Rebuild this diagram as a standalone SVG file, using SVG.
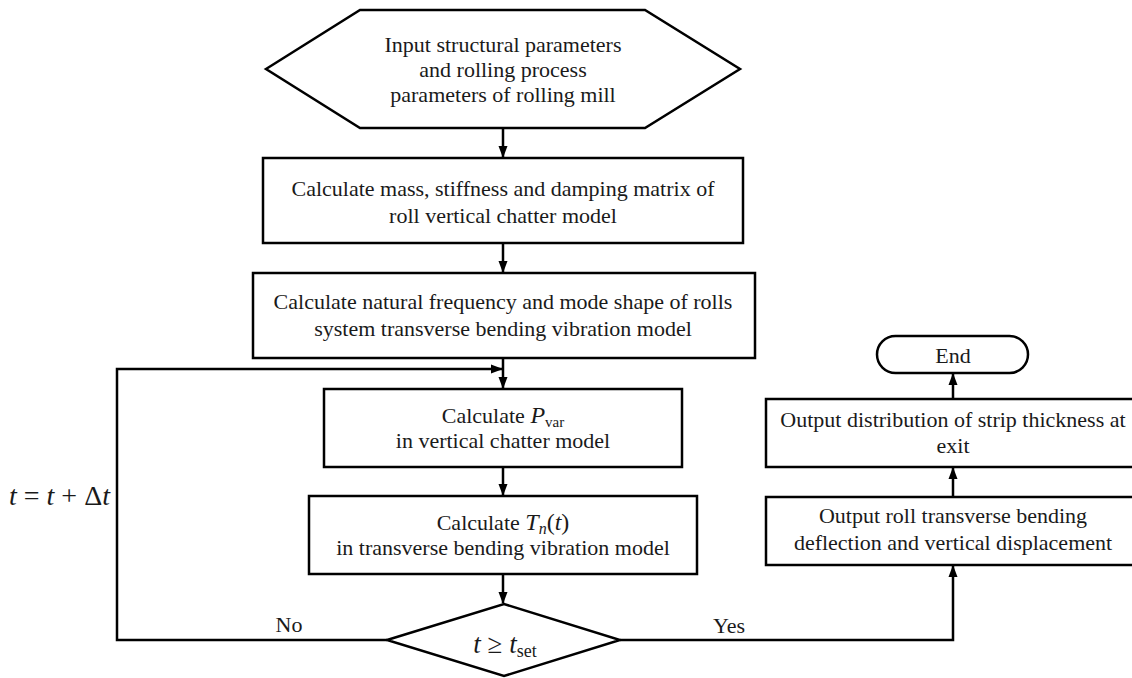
<svg xmlns="http://www.w3.org/2000/svg" width="1132" height="678" viewBox="0 0 1132 678">
<style>
.s{fill:#fff;stroke:#000;stroke-width:2.5}
.t{font-family:'Liberation Serif','Times New Roman','DejaVu Serif',serif;font-size:22px;fill:#1a1a1a;text-anchor:middle}
.l{fill:none;stroke:#000;stroke-width:2.5}
.m{font-family:'Liberation Serif','Times New Roman','DejaVu Serif',serif;font-style:italic;fill:#1a1a1a}
</style>
<defs>
<marker id="a" markerUnits="userSpaceOnUse" markerWidth="12" markerHeight="12" viewBox="0 0 12 12" refX="11" refY="6" orient="auto">
<path d="M0,1.5 L12,6 L0,10.5 Z" fill="#000"/>
</marker>
</defs>
<rect width="1132" height="678" fill="#fff"/>
<g id="connectors">
<line class="l" x1="503" y1="128" x2="503" y2="157" marker-end="url(#a)"/>
<line class="l" x1="503" y1="243" x2="503" y2="272" marker-end="url(#a)"/>
<line class="l" x1="503" y1="358" x2="503" y2="388" marker-end="url(#a)"/>
<polyline class="l" points="387,640 117,640 117,369 502,369" marker-end="url(#a)"/>
<line class="l" x1="503" y1="467" x2="503" y2="495" marker-end="url(#a)"/>
<line class="l" x1="503" y1="574" x2="503" y2="603" marker-end="url(#a)"/>
<polyline class="l" points="620,640 953,640 953,566" marker-end="url(#a)"/>
<line class="l" x1="953" y1="497" x2="953" y2="468" marker-end="url(#a)"/>
<line class="l" x1="953" y1="399" x2="953" y2="374" marker-end="url(#a)"/>
<text class="t" x="289" y="632">No</text>
<text class="t" x="729" y="633">Yes</text>
<text class="m" x="9" y="505" font-size="28">t<tspan font-style="normal"> = </tspan>t<tspan font-style="normal"> + Δ</tspan>t</text>
</g>
<g id="input">
<polygon class="s" points="266,69 360,10 645,10 740,69 645,128 360,128"/>
<text class="t" x="503" y="52">Input structural parameters</text>
<text class="t" x="503" y="77">and rolling process</text>
<text class="t" x="503" y="102">parameters of rolling mill</text>
</g>
<g id="matrix">
<rect class="s" x="263" y="158" width="480" height="85"/>
<text class="t" x="503" y="196">Calculate mass, stiffness and damping matrix of</text>
<text class="t" x="503" y="223">roll vertical chatter model</text>
</g>
<g id="natural">
<rect class="s" x="253" y="273" width="502" height="85"/>
<text class="t" x="503" y="309">Calculate natural frequency and mode shape of rolls</text>
<text class="t" x="503" y="336">system transverse bending vibration model</text>
</g>
<g id="pvar">
<rect class="s" x="324" y="389" width="358" height="78"/>
<text class="t" x="503" y="423">Calculate  <tspan font-style="italic" font-size="24">P</tspan><tspan font-size="15" dy="4">var</tspan></text>
<text class="t" x="503" y="448">in vertical chatter model</text>
</g>
<g id="tn">
<rect class="s" x="309" y="496" width="388" height="78"/>
<text class="t" x="503" y="530">Calculate  <tspan font-style="italic" font-size="24">T</tspan><tspan font-style="italic" font-size="16" dy="4">n</tspan><tspan font-size="24" dy="-4">(</tspan><tspan font-style="italic" font-size="24">t</tspan><tspan font-size="24">)</tspan></text>
<text class="t" x="503" y="555">in transverse bending vibration model</text>
</g>
<g id="decision">
<polygon class="s" points="387,640 504,604 620,640 504,676"/>
<text class="m" x="505" y="653" font-size="27" text-anchor="middle">t<tspan font-style="normal"> ≥ </tspan>t<tspan font-style="normal" font-size="18" dy="4">set</tspan></text>
</g>
<g id="output-roll">
<rect class="s" x="766" y="497" width="374" height="68"/>
<text class="t" x="953" y="523">Output roll transverse bending</text>
<text class="t" x="953" y="550">deflection and vertical displacement</text>
</g>
<g id="output-thickness">
<rect class="s" x="766" y="399" width="374" height="68"/>
<text class="t" x="953" y="427">Output distribution of strip thickness at</text>
<text class="t" x="953" y="453">exit</text>
</g>
<g id="end">
<rect class="s" x="877" y="336" width="151" height="37" rx="18.5"/>
<text class="t" x="953" y="363">End</text>
</g>
</svg>
